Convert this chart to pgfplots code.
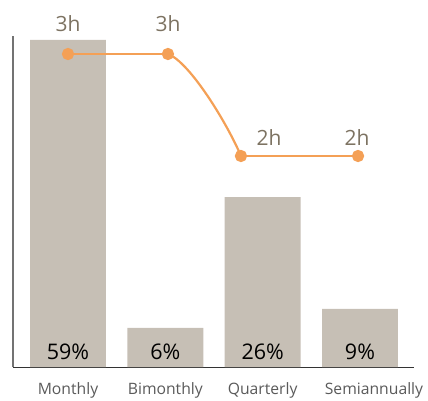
\documentclass[border=0pt]{standalone}
\usepackage{fontspec}
\setmainfont{Open Sans}
\usepackage{pgfplots}
\pgfplotsset{compat=1.18}
\definecolor{barc}{HTML}{C6BFB5}
\definecolor{linec}{HTML}{F4A056}
\definecolor{hc}{HTML}{7D7362}
\definecolor{tickc}{HTML}{5A5A5A}

\begin{document}
\begin{tikzpicture}[x=1pt,y=1pt,
    pct/.style={anchor=base, font=\fontsize{21.5}{24}\selectfont, text=black, yshift=8pt},
    hl/.style={anchor=base, font=\fontsize{21}{24}\selectfont, text=hc}]
\useasboundingbox (0,0) rectangle (428,400);
% bars: share of respondents
\begin{axis}[at={(13pt,33pt)}, anchor=south west, scale only axis,
    width=401pt, height=331pt,
    xmin=-0.565, xmax=3.555, ymin=0, ymax=59.72,
    axis x line=bottom, axis y line=left, clip=false,
    x axis line style={-, draw=black!80, line width=1pt},
    y axis line style={-, draw=black!55, line width=1.5pt},
    xtick={0,1,2,3},
    xticklabels={Monthly,Bimonthly,Quarterly,\hspace*{28pt}Semiannually},
    ytick=\empty, major tick length=0pt,
    xticklabel style={font=\fontsize{15.7}{18}\selectfont, text=tickc, yshift=-12pt},
    ybar, bar width=0.78]
\addplot[fill=barc, draw=none] coordinates {(0,59) (1,7.04) (2,30.67) (3,10.47)};
\node[pct] at (axis cs:0,0) {59\%};
\node[pct] at (axis cs:1,0) {6\%};
\node[pct] at (axis cs:2,0) {26\%};
\node[pct] at (axis cs:3,0) {9\%};
\end{axis}
% line: hours
\begin{axis}[at={(13pt,33pt)}, anchor=south west, scale only axis,
    width=401pt, height=331pt,
    xmin=-0.565, xmax=3.555, ymin=-0.0686, ymax=3.1765,
    hide axis, clip=false]
\addplot[linec, line width=2.2pt, mark=*, mark size=5pt,
    mark options={fill=linec, draw=none}] coordinates {(0,3) (1.027,3)};
\addplot[linec, line width=2.2pt, mark=*, mark size=5pt,
    mark options={fill=linec, draw=none}] coordinates {(1.777,2) (2.98,2)};
\draw[linec, line width=2.2pt] (axis cs:1.027,3) .. controls (axis cs:1.253,2.922)
    and (axis cs:1.644,2.304) .. (axis cs:1.777,2);
\node[hl, yshift=22pt] at (axis cs:0,3) {3h};
\node[hl, yshift=22pt] at (axis cs:1.027,3) {3h};
\node[hl, yshift=11pt] at (axis cs:2.065,2) {2h};
\node[hl, yshift=11pt] at (axis cs:2.969,2) {2h};
\end{axis}
\end{tikzpicture}
\end{document}
